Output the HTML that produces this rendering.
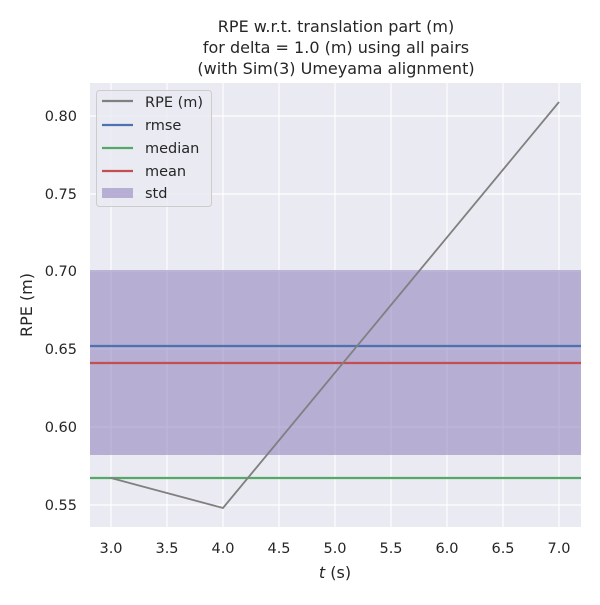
<!DOCTYPE html>
<html><head><style>body{margin:0;background:#fff}</style></head><body>
<svg width="600" height="600" xmlns="http://www.w3.org/2000/svg" font-family="DejaVu Sans, Liberation Sans, sans-serif">
<rect width="600" height="600" fill="#fff"/>
<rect x="90" y="83" width="491" height="444" fill="#eaeaf2"/>
<g stroke="#fff" stroke-width="1.2">
<line x1="111" y1="83" x2="111" y2="527"/><line x1="167" y1="83" x2="167" y2="527"/><line x1="223" y1="83" x2="223" y2="527"/><line x1="279" y1="83" x2="279" y2="527"/><line x1="335" y1="83" x2="335" y2="527"/><line x1="391" y1="83" x2="391" y2="527"/><line x1="447" y1="83" x2="447" y2="527"/><line x1="503" y1="83" x2="503" y2="527"/><line x1="559" y1="83" x2="559" y2="527"/>
<line x1="90" y1="505" x2="581" y2="505"/><line x1="90" y1="427" x2="581" y2="427"/><line x1="90" y1="349" x2="581" y2="349"/><line x1="90" y1="271" x2="581" y2="271"/><line x1="90" y1="194" x2="581" y2="194"/><line x1="90" y1="116" x2="581" y2="116"/>
</g>
<rect x="90" y="270" width="491" height="185" fill="#8172b3" fill-opacity="0.5"/>
<line x1="90" y1="346" x2="581" y2="346" stroke="#4c72b0" stroke-width="2.2"/>
<line x1="90" y1="478" x2="581" y2="478" stroke="#55a868" stroke-width="2.2"/>
<line x1="90" y1="363" x2="581" y2="363" stroke="#c44e52" stroke-width="2.2"/>
<polyline points="111,478 223,508 559,102" fill="none" stroke="#808080" stroke-width="1.8"/>
<g font-size="14.5" fill="#262626" text-anchor="middle">
<text x="111" y="553">3.0</text><text x="167" y="553">3.5</text><text x="223" y="553">4.0</text><text x="279" y="553">4.5</text><text x="335" y="553">5.0</text><text x="391" y="553">5.5</text><text x="447" y="553">6.0</text><text x="503" y="553">6.5</text><text x="559" y="553">7.0</text>
<text x="335" y="578" font-size="16"><tspan font-style="italic">t</tspan> (s)</text>
<text x="336" y="32" font-size="16">RPE w.r.t. translation part (m)</text>
<text x="336" y="53" font-size="16">for delta = 1.0 (m) using all pairs</text>
<text x="336" y="74" font-size="16">(with Sim(3) Umeyama alignment)</text>
<text transform="translate(32,305) rotate(-90)" font-size="16">RPE (m)</text>
</g>
<g font-size="14.5" fill="#262626" text-anchor="end">
<text x="77" y="510">0.55</text><text x="77" y="432">0.60</text><text x="77" y="354">0.65</text><text x="77" y="276">0.70</text><text x="77" y="199">0.75</text><text x="77" y="121">0.80</text>
</g>
<rect x="96.5" y="90.5" width="115" height="116" rx="3" fill="#eaeaf2" fill-opacity="0.8" stroke="#ccc"/>
<g stroke-width="2.2">
<line x1="102" y1="101" x2="133" y2="101" stroke="#808080"/>
<line x1="102" y1="125" x2="133" y2="125" stroke="#4c72b0"/>
<line x1="102" y1="148" x2="133" y2="148" stroke="#55a868"/>
<line x1="102" y1="171" x2="133" y2="171" stroke="#c44e52"/>
</g>
<rect x="102" y="188" width="31" height="10" fill="#8172b3" fill-opacity="0.5"/>
<g font-size="14.5" fill="#262626">
<text x="145" y="107">RPE (m)</text><text x="145" y="130">rmse</text><text x="145" y="153">median</text><text x="145" y="176">mean</text><text x="145" y="198">std</text>
</g>
</svg>
</body></html>
